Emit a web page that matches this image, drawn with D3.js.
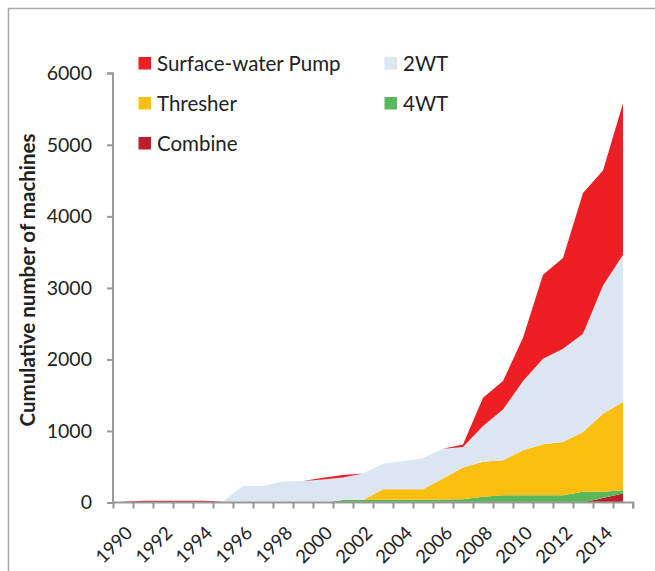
<!DOCTYPE html>
<html>
<head>
<meta charset="utf-8">
<script src="https://cdn.jsdelivr.net/npm/d3@7"></script>
<style>
  html, body { margin: 0; padding: 0; background: #fff; }
  svg { display: block; }
  text { font-family: Lato, "Open Sans", sans-serif; fill: #222; }
</style>
</head>
<body>
<svg id="chart" width="655" height="571"></svg>
<script>
// ---- data ----
const years = d3.range(1990, 2016);
const yearLabels = ["1990","1992","1994","1996","1998","2000","2002","2004","2006","2008","2010","2012","2014"];
const yTicks = [0, 1000, 2000, 3000, 4000, 5000, 6000];
const seriesNames = ["Combine", "4WT", "Thresher", "2WT", "Surface-water Pump"];
const combine  = [0,0,0,0,0,0,0,0,0,0,0,0,0,0,0,0,0,0,0,0,0,0,0,0,62,126];
const fourWT   = [0,0,0,0,0,0,0,0,0,0,0,35,35,38,38,40,42,47,79,102,102,102,102,149,87,46];
const thresher = [0,0,0,0,0,0,0,0,0,0,0,0,0,147,147,145,293,443,491,488,628,711,744,836,1093,1232];
const twoWT    = [0,0,0,0,0,15,230,230,295,300,320,315,370,355,390,435,415,285,499,710,967,1196,1303,1373,1790,2060];
const pump     = [10,25,25,25,25,0,0,0,0,0,25,35,0,0,0,0,0,35,396,397,605,1176,1269,1967,1609,2116];
const colors = {"Combine":"#be1e2d","4WT":"#5bb85a","Thresher":"#fbbf12","2WT":"#dce6f2","Surface-water Pump":"#ed1f24"};

const seriesValues = {"Combine":combine,"4WT":fourWT,"Thresher":thresher,"2WT":twoWT,"Surface-water Pump":pump};
const table = years.map((yr, i) => {
  const row = {year: yr, idx: i};
  seriesNames.forEach(n => row[n] = seriesValues[n][i]);
  return row;
});

const svg = d3.select("#chart");

// outer frame
svg.append("rect").attr("x", 8.5).attr("y", 8.5).attr("width", 700).attr("height", 700)
  .attr("fill", "none").attr("stroke", "#a6a6a6").attr("stroke-width", 1.5);

const x0 = 113, x1 = 633, yBottom = 502.5, yTop = 73.3;
const xLin = d3.scaleLinear().domain([0, years.length]).range([x0, x1]);
const xc = i => xLin(i + 0.5);
const y = d3.scaleLinear().domain([0, 6000]).range([yBottom, yTop]);

const stack = d3.stack().keys(seriesNames);
const stacked = stack(table);

const area = d3.area()
  .x(d => xc(d.data.idx))
  .y0(d => y(d[0]))
  .y1(d => y(d[1]))
  .curve(d3.curveLinear);

svg.append("g").selectAll("path").data(stacked).join("path")
  .attr("d", area)
  .attr("fill", d => colors[d.key]);

// axes
const axisColor = "#999999";
const yAxis = d3.axisLeft(y).tickValues(yTicks).tickSize(6).tickPadding(15).tickFormat(d3.format("d"));
const gy = svg.append("g").attr("transform", `translate(${x0},0)`).call(yAxis);
gy.select(".domain").attr("stroke", axisColor).attr("stroke-width", 2).attr("d", `M-6,${yTop}H0V${yBottom}`);
gy.selectAll(".tick line").attr("stroke", axisColor).attr("stroke-width", 2);
gy.selectAll(".tick text").attr("font-size", 19.5).attr("font-family", "Lato, sans-serif").attr("fill", "#222");

const xAxis = d3.axisBottom(xLin).tickValues(d3.range(years.length + 1)).tickSize(6).tickFormat("");
const gx = svg.append("g").attr("transform", `translate(0,${yBottom})`).call(xAxis);
gx.select(".domain").attr("stroke", axisColor).attr("stroke-width", 2).attr("d", `M${x0},0H${x1}V6`);
gx.selectAll(".tick line").attr("stroke", axisColor).attr("stroke-width", 2);

// x labels rotated
svg.append("g").selectAll("text").data(yearLabels).join("text")
  .attr("transform", d => `translate(${xc(years.indexOf(+d)) + 6},${yBottom + 27}) rotate(-45)`)
  .attr("text-anchor", "end")
  .attr("dy", "0.35em")
  .attr("font-size", 18.5)
  .text(d => d);

// y title
svg.append("text")
  .attr("transform", `translate(35,${(yTop + yBottom) / 2 - 8}) rotate(-90)`)
  .attr("text-anchor", "middle")
  .attr("font-size", 20.5)
  .attr("font-weight", "bold")
  .text("Cumulative number of machines");

// legend
const legendItems = [
  {name: "Surface-water Pump", col: 0, row: 0},
  {name: "2WT", col: 1, row: 0},
  {name: "Thresher", col: 0, row: 1},
  {name: "4WT", col: 1, row: 1},
  {name: "Combine", col: 0, row: 2}
];
const lg = svg.append("g").selectAll("g").data(legendItems).join("g")
  .attr("transform", d => `translate(${d.col ? 384.5 : 138.5},${57 + d.row * 40})`);
lg.append("rect").attr("width", 12.5).attr("height", 12.5).attr("fill", d => colors[d.name]);
lg.append("text").attr("x", 18.5).attr("y", 6.5).attr("dy", "0.36em").attr("font-size", 20.5).text(d => d.name);
</script>
</body>
</html>
